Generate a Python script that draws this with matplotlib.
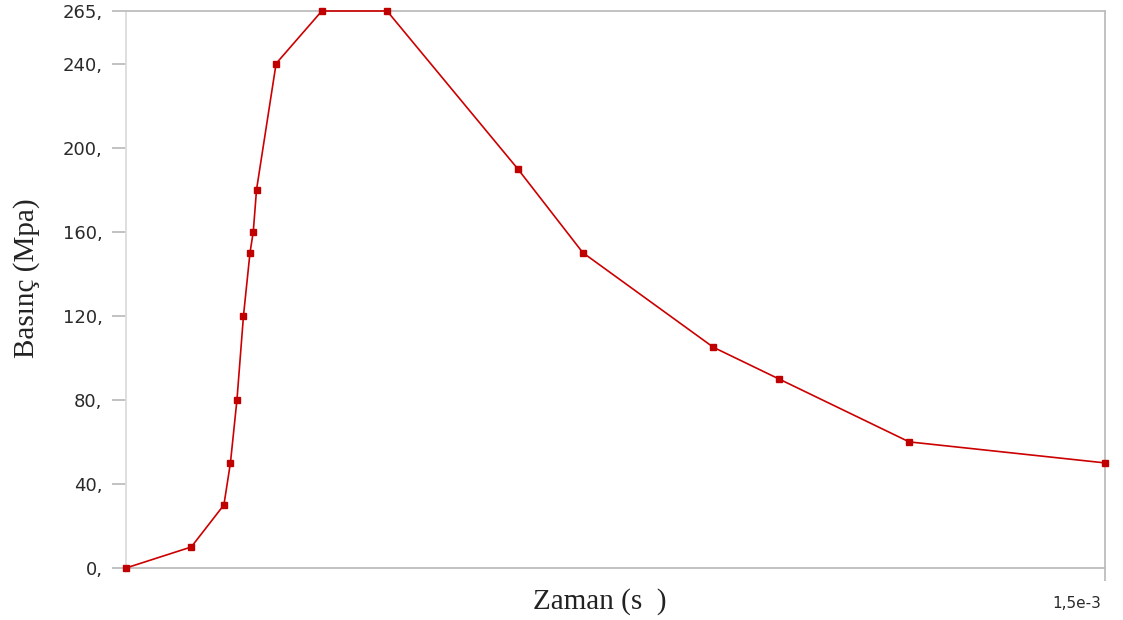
import matplotlib
matplotlib.use("Agg")
import matplotlib.pyplot as plt

# Pressure history
time_s = [0.0, 0.10e-3, 0.15e-3, 0.16e-3, 0.17e-3, 0.18e-3, 0.19e-3, 0.195e-3,
          0.20e-3, 0.23e-3, 0.30e-3, 0.40e-3, 0.60e-3, 0.70e-3, 0.90e-3,
          1.00e-3, 1.20e-3, 1.50e-3]
pressure_mpa = [0, 10, 30, 50, 80, 120, 150, 160, 180, 240, 265, 265, 190,
                150, 105, 90, 60, 50]

y_ticks = [0, 40, 80, 120, 160, 200, 240, 265]
y_tick_labels = ["0,", "40,", "80,", "120,", "160,", "200,", "240,", "265,"]
x_ticks = [1.5e-3]
x_tick_labels = ["1,5e-3"]

W, H = 1123, 620
fig = plt.figure(figsize=(W / 100, H / 100), dpi=100)
ax = fig.add_axes([126 / W, 1 - 568 / H, (1105 - 126) / W, (568 - 11) / H])

ax.plot(time_s, pressure_mpa, color="#cc0000", lw=1.2, marker="s",
        markersize=4, markerfacecolor="#c00000", markeredgecolor="#c00000",
        clip_on=False, zorder=3)

ax.set_xlim(0, 1.5e-3)
ax.set_ylim(0, 265)

ax.set_yticks(y_ticks)
ax.set_yticklabels(y_tick_labels, fontfamily="DejaVu Sans", fontsize=13,
                   color="#2a2a2a")

# x axis: a single tick at the end, label set just left of it
ax.set_xticks(x_ticks)
ax.set_xticklabels([])
for xv, txt in zip(x_ticks, x_tick_labels):
    ax.annotate(txt, xy=(xv, 0), xycoords=("data", "axes fraction"),
                xytext=(-4, -35), textcoords="offset pixels",
                ha="right", va="center", fontfamily="DejaVu Sans",
                fontsize=11, color="#2a2a2a", annotation_clip=False)

ax.tick_params(axis="y", direction="out", length=10, width=1.3,
               color="#bdbdbd", pad=7)
ax.tick_params(axis="x", direction="out", length=9, width=1.3,
               color="#bdbdbd")

for side in ("top", "bottom", "right"):
    ax.spines[side].set_color("#bdbdbd")
    ax.spines[side].set_linewidth(1.3)
ax.spines["left"].set_color("#dcdcdc")
ax.spines["left"].set_linewidth(1.3)

fig.text(27 / W, 1 - 278 / H, "Basınç (Mpa)", rotation=90, ha="center",
         va="center", fontfamily="Liberation Serif", fontsize=21,
         color="#222222")
fig.text(600 / W, 1 - 602 / H, "Zaman (s  )", ha="center", va="center",
         fontfamily="Liberation Serif", fontsize=21, color="#222222")

fig.savefig("out.png", dpi=100, facecolor="white")
